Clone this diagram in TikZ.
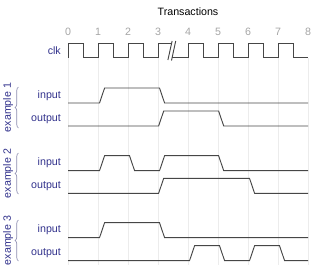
\documentclass[tikz,border=0pt]{standalone}
\usepackage{fontspec}
\setmainfont{Liberation Sans}
\usetikzlibrary{decorations.pathreplacing}

\definecolor{labelblue}{RGB}{50,50,140}
\definecolor{wavegray}{RGB}{70,70,70}
\definecolor{gridgray}{RGB}{236,236,236}
\definecolor{tickgray}{RGB}{165,165,165}
\definecolor{bracegray}{RGB}{140,140,175}

\tikzset{
    wave/.style={draw=wavegray, line width=0.7pt},
    siglabel/.style={anchor=east, text=labelblue, inner sep=0pt},
    exlabel/.style={rotate=90, text=labelblue, inner sep=0pt},
    exbrace/.style={draw=bracegray, line width=0.5pt, decorate, decoration={brace, amplitude=2.6pt}},
}

\begin{document}
\begin{tikzpicture}[x=22.5pt, y=-0.75pt, font=\fontsize{8}{9.6}\selectfont]
    \useasboundingbox (-68/30,0) rectangle (8.4,272);
    % grid and time ticks
    \foreach \t in {0,...,8} {
        \draw[gridgray, line width=0.5pt] (\t,58) -- (\t,265);
        \node[text=tickgray] (tick\t) at (\t,32) {\t};
    }
    \node (title) at (4,12) {Transactions};
    % clock with a break between 3 and 4
    \draw[wave] (0,57.5) foreach \t in {0,1,2} {-- (\t,43) -- (\t+0.5,43) -- (\t+0.5,57.5) -- (\t+1,57.5)} -- (3,43) -- (3.47,43);
    \draw[wave] (3.33,60) -- (3.47,41);
    \draw[wave] (3.45,60.5) -- (3.59,41);
    \draw[wave] (3.47,57.5) -- (4,57.5) foreach \t in {4,5,6,7} {-- (\t,43) -- (\t+0.5,43) -- (\t+0.5,57.5) -- (\t+1,57.5)};
    \node[siglabel] (clk) at (-0.23,50.5) {clk};
    % example 1
    \draw[wave] (0,103) -- (1.05,103) -- (1.22,88) -- (3.05,88) -- (3.22,103) -- (8,103);
    \draw[wave] (0,126) -- (3.02,126) -- (3.19,111) -- (5.02,111) -- (5.19,126) -- (8,126);
    % example 2
    \draw[wave] (0,170.7) -- (1.05,170.7) -- (1.22,155.7) -- (2.05,155.7) -- (2.22,170.7) -- (3.05,170.7) -- (3.22,155.7) -- (5.02,155.7) -- (5.19,170.7) -- (8,170.7);
    \draw[wave] (0,193.3) -- (3.02,193.3) -- (3.19,178.3) -- (6.05,178.3) -- (6.22,193.3) -- (8,193.3);
    % example 3
    \draw[wave] (0,237.7) -- (1.05,237.7) -- (1.22,222.7) -- (3.05,222.7) -- (3.22,237.7) -- (8,237.7);
    \draw[wave] (0,260.7) -- (4.05,260.7) -- (4.22,245.7) -- (5.05,245.7) -- (5.22,260.7) -- (6.05,260.7) -- (6.22,245.7) -- (7.05,245.7) -- (7.22,260.7) -- (8,260.7);
    % signal names
    \foreach \k/\y in {1/96, 2/163, 3/230} {
        \node[siglabel] (in\k) at (-0.23,\y) {input};
        \node[siglabel] (out\k) at (-0.23,\y+23) {output};
    }
    % brackets round each example
    \foreach \k/\a/\b in {1/87/128, 2/153/194, 3/220/261} {
        \draw[exbrace] (-1.65,\b) -- (-1.65,\a);
        \node[exlabel] (ex\k) at (-2.0,{(\a+\b)/2}) {example \k};
    }
\end{tikzpicture}
\end{document}
